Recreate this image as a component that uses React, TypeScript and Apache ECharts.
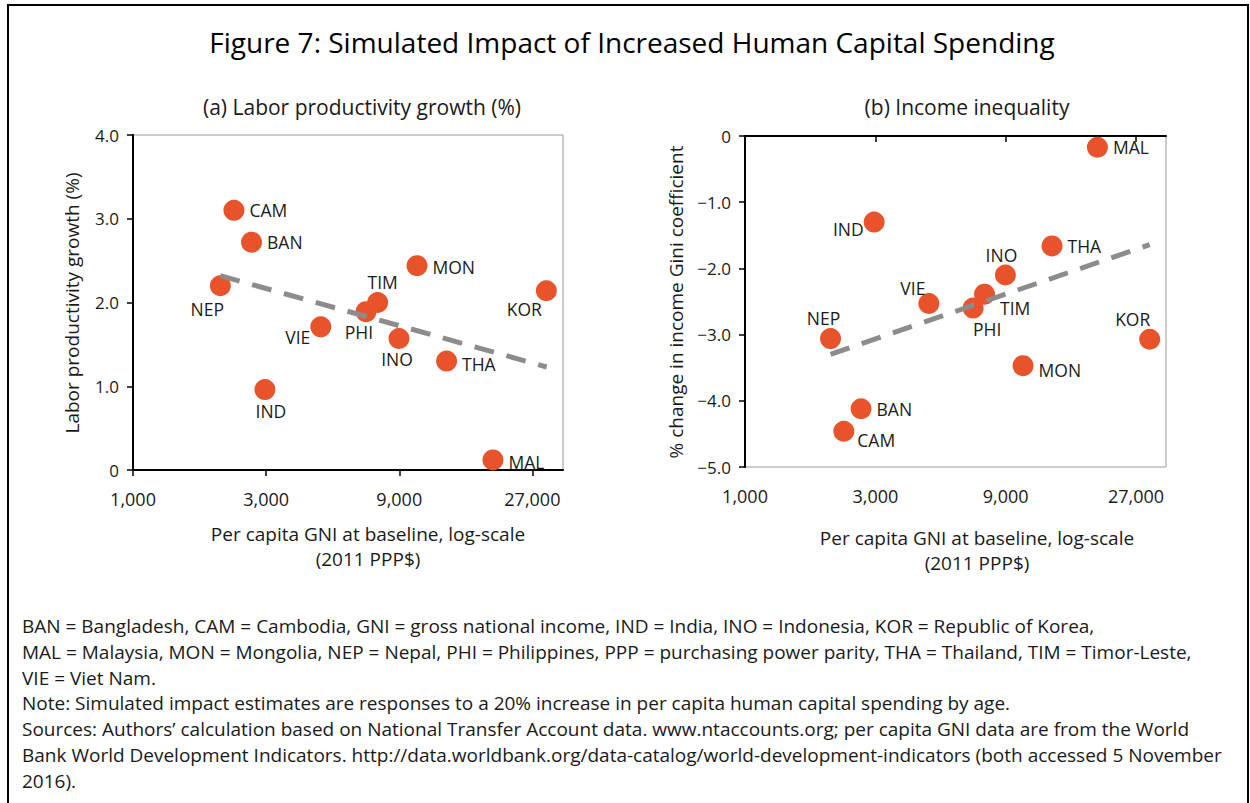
import React, { useEffect, useRef } from "react";
import * as echarts from "echarts";

const countries = ["BAN", "CAM", "IND", "INO", "KOR", "MAL", "MON", "NEP", "PHI", "THA", "TIM", "VIE"];
const gniBaseline = [2660, 2300, 2970, 8980, 30300, 19500, 10420, 2056, 6840, 13300, 7530, 4710];
const productivityGrowth = [2.72, 3.1, 0.96, 1.57, 2.14, 0.12, 2.44, 2.2, 1.89, 1.3, 2.0, 1.71];
const giniChange = [-4.12, -4.46, -1.3, -2.1, -3.07, -0.17, -3.47, -3.06, -2.6, -1.66, -2.39, -2.53];
const trendProductivity = [[2056, 2.32], [30400, 1.23]];
const trendGini = [[2056, -3.3], [30300, -1.64]];
const xTickLabels = ["1,000", "3,000", "9,000", "27,000"];
const yTickLabelsA = ["0", "1.0", "2.0", "3.0", "4.0"];
const yTickLabelsB = ["\u22125.0", "\u22124.0", "\u22123.0", "\u22122.0", "\u22121.0", "0"];

const FONT = "'Open Sans'";
const TXT = "#1a1a1a";
const DOT = "#E9532B";

// label placement for each country: [position, dx, dy]
const labelA: Record<string, [string, number, number]> = {
  BAN: ["right", 0, 0], CAM: ["right", 0, 0], MON: ["right", 0, 1], THA: ["right", 0, 3], MAL: ["right", 0, 2],
  TIM: ["top", 5, 4], NEP: ["bottom", -13, -1], KOR: ["bottom", -22, -6], PHI: ["bottom", -7, -4],
  VIE: ["left", 5, 10], INO: ["bottom", -2, -4], IND: ["bottom", 6, -3],
};
const labelB: Record<string, [string, number, number]> = {
  MAL: ["right", 0, 0], THA: ["right", 0, 0], BAN: ["right", 0, 0], IND: ["left", 5, 7],
  INO: ["top", -4, 4], VIE: ["top", -16, 9], TIM: ["right", 0, 14], PHI: ["bottom", 14, -4],
  NEP: ["top", -7, 4], KOR: ["top", -17, 4], MON: ["right", 0, 4], CAM: ["right", -2, 9],
};

const toLog3 = (g: number) => Math.log(g / 1000) / Math.log(3);

const footLines = [
  "BAN = Bangladesh, CAM = Cambodia, GNI = gross national income, IND = India, INO = Indonesia, KOR = Republic of Korea,",
  "MAL = Malaysia, MON = Mongolia, NEP = Nepal, PHI = Philippines, PPP = purchasing power parity, THA = Thailand, TIM = Timor-Leste,",
  "VIE = Viet Nam.",
  "Note: Simulated impact estimates are responses to a 20% increase in per capita human capital spending by age.",
  "Sources: Authors\u2019 calculation based on National Transfer Account data. www.ntaccounts.org; per capita GNI data are from the World",
  "Bank World Development Indicators. http://data.worldbank.org/data-catalog/world-development-indicators (both accessed 5 November",
  "2016).",
];

export default function App() {
  const ref = useRef<HTMLDivElement>(null);
  useEffect(() => {
    if (!ref.current) return;
    const chart = echarts.init(ref.current, undefined, { renderer: "svg" });

    const scatterData = (vals: number[], lab: Record<string, [string, number, number]>) =>
      countries.map((c, i) => ({
        name: c,
        value: [toLog3(gniBaseline[i]), vals[i]],
        label: { position: lab[c][0], offset: [lab[c][1], lab[c][2]] },
      }));

    const xAxisCommon = (gridIndex: number) => ({
      type: "value",
      gridIndex,
      min: 0,
      max: 3.23,
      interval: 1,
      splitLine: { show: false },
      axisLine: { show: true, lineStyle: { color: "#000", width: 2 } },
      axisTick: { show: true, length: 6, lineStyle: { color: "#000", width: 1.5 } },
      axisLabel: {
        margin: 20,
        fontFamily: FONT,
        fontSize: 18,
        color: TXT,
        showMaxLabel: false,
        formatter: (v: number) => xTickLabels[Math.round(v)] ?? "",
      },
    });

    const yAxisCommon = (gridIndex: number, min: number, max: number, labels: string[], margin: number) => ({
      type: "value",
      gridIndex,
      min,
      max,
      interval: 1,
      splitLine: { show: false },
      axisLine: { show: true, lineStyle: { color: "#000", width: 2 } },
      axisTick: { show: true, length: 6, lineStyle: { color: "#000", width: 1.5 } },
      axisLabel: {
        margin,
        fontFamily: FONT,
        fontSize: 17,
        color: TXT,
        formatter: (v: number) => labels[Math.round(v - min)] ?? "",
      },
    });

    const scatterLabel = {
      show: true,
      formatter: "{b}",
      fontFamily: FONT,
      fontSize: 17.5,
      color: TXT,
    };

    const trendLine = (pts: number[][], idx: number) => ({
      type: "line",
      xAxisIndex: idx,
      yAxisIndex: idx,
      data: pts.map((p) => [toLog3(p[0]), p[1]]),
      symbol: "none",
      silent: true,
      z: 5,
      lineStyle: { color: "#8c8c8c", width: 5, type: [20, 13] },
    });

    chart.setOption({
      animation: false,
      backgroundColor: "#fff",
      grid: [
        { left: 133, top: 135, width: 430, height: 335, show: true, borderColor: "#999", borderWidth: 1 },
        { left: 745, top: 136, width: 421, height: 331, show: true, borderColor: "#999", borderWidth: 1 },
      ],
      xAxis: [xAxisCommon(0), xAxisCommon(1)],
      yAxis: [
        yAxisCommon(0, 0, 4, yTickLabelsA, 14),
        yAxisCommon(1, -5, 0, yTickLabelsB, 14),
      ],
      series: [
        {
          type: "scatter",
          xAxisIndex: 0,
          yAxisIndex: 0,
          symbolSize: 21,
          itemStyle: { color: DOT, opacity: 1 },
          label: scatterLabel,
          data: scatterData(productivityGrowth, labelA),
          z: 3,
        },
        {
          type: "scatter",
          xAxisIndex: 1,
          yAxisIndex: 1,
          symbolSize: 21,
          itemStyle: { color: DOT, opacity: 1 },
          label: scatterLabel,
          data: scatterData(giniChange, labelB),
          z: 3,
        },
        trendLine(trendProductivity, 0),
        trendLine(trendGini, 1),
      ],
      graphic: [
        {
          type: "rect",
          shape: { x: 8, y: 5, width: 1240, height: 820 },
          style: { fill: "none", stroke: "#000", lineWidth: 2 },
          silent: true,
        },
        {
          type: "text",
          x: 632,
          y: 42,
          style: {
            text: "Figure 7: Simulated Impact of Increased Human Capital Spending",
            font: `28px ${FONT}`,
            fill: "#000",
            align: "center",
            verticalAlign: "middle",
          },
        },
        {
          type: "text",
          x: 362,
          y: 107,
          style: { text: "(a) Labor productivity growth (%)", font: `21px ${FONT}`, fill: TXT, align: "center", verticalAlign: "middle" },
        },
        {
          type: "text",
          x: 967,
          y: 107,
          style: { text: "(b) Income inequality", font: `21px ${FONT}`, fill: TXT, align: "center", verticalAlign: "middle" },
        },
        {
          type: "text",
          x: 72,
          y: 303,
          rotation: Math.PI / 2,
          style: { text: "Labor productivity growth (%)", font: `19px ${FONT}`, fill: TXT, align: "center", verticalAlign: "middle" },
        },
        {
          type: "text",
          x: 676,
          y: 302,
          rotation: Math.PI / 2,
          style: { text: "% change in income Gini coefficient", font: `19px ${FONT}`, fill: TXT, align: "center", verticalAlign: "middle" },
        },
        {
          type: "text",
          x: 368,
          y: 546,
          style: {
            text: "Per capita GNI at baseline, log-scale\n(2011 PPP$)",
            font: `19px ${FONT}`,
            lineHeight: 25,
            fill: TXT,
            align: "center",
            verticalAlign: "middle",
          },
        },
        {
          type: "text",
          x: 977,
          y: 550,
          style: {
            text: "Per capita GNI at baseline, log-scale\n(2011 PPP$)",
            font: `19px ${FONT}`,
            lineHeight: 25,
            fill: TXT,
            align: "center",
            verticalAlign: "middle",
          },
        },
        ...footLines.map((t, i) => ({
          type: "text",
          x: 22,
          y: 626 + i * 25.8,
          style: { text: t, font: `19px ${FONT}`, fill: TXT, align: "left", verticalAlign: "middle" },
        })),
      ],
    });
    return () => chart.dispose();
  }, []);
  return <div ref={ref} style={{ position: "fixed", left: 0, top: 0, width: 1250, height: 803 }} />;
}
